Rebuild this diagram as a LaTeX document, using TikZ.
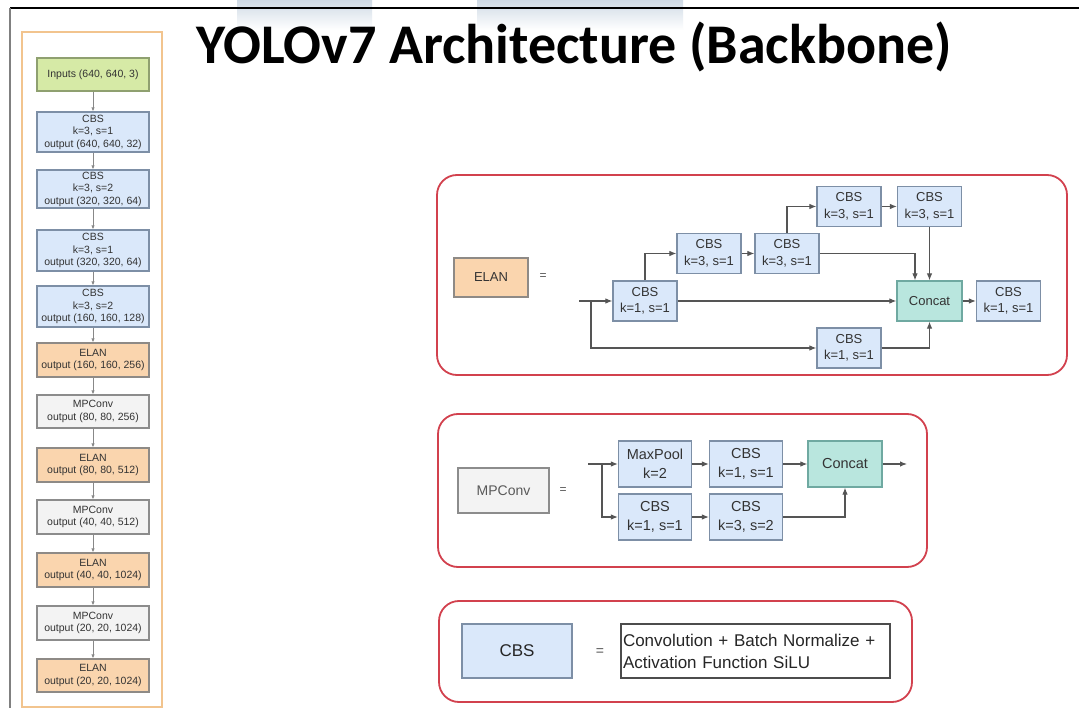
\documentclass[tikz,border=0pt]{standalone}
\usepackage{fontspec}
\setmainfont{Liberation Sans}
\newfontfamily\titlefont{Carlito}
\usetikzlibrary{arrows.meta}

\definecolor{cbsfill}{HTML}{DAE8FA}
\definecolor{cbsdraw}{HTML}{7D8FA6}
\definecolor{elanfill}{HTML}{FAD5AE}
\definecolor{elandraw}{HTML}{8E8A86}
\definecolor{mpfill}{HTML}{F3F3F3}
\definecolor{mpdraw}{HTML}{8C8C8C}
\definecolor{catfill}{HTML}{B9E6DE}
\definecolor{catdraw}{HTML}{6FA9A1}
\definecolor{infill}{HTML}{D6EAA6}
\definecolor{indraw}{HTML}{8FA070}
\definecolor{panelred}{HTML}{D2414E}
\definecolor{panelorange}{HTML}{F2C48E}
\definecolor{wire}{HTML}{555555}
\definecolor{txt}{HTML}{333333}
\definecolor{band}{HTML}{CFDAE5}

\tikzset{
  box/.style={draw, line width=1.2pt, inner sep=0pt, align=center, text=txt},
  cbs/.style={box, fill=cbsfill, draw=cbsdraw},
  elanb/.style={box, fill=elanfill, draw=elandraw},
  mpb/.style={box, fill=mpfill, draw=mpdraw},
  cat/.style={box, fill=catfill, draw=catdraw},
  inb/.style={box, fill=infill, draw=indraw},
  col/.style={minimum width=112pt, minimum height=34pt, font=\fontsize{10.5}{12.5}\selectfont},
  colcbs/.style={col, minimum height=40pt},
  el/.style={minimum width=64pt, minimum height=40pt, font=\fontsize{13}{16.5}\selectfont},
  mpn/.style={minimum width=73pt, minimum height=46pt, font=\fontsize{14.5}{19}\selectfont},
  panel/.style={draw=panelred, line width=1.8pt, rounded corners=20pt, fill=white},
  eqsign/.style={text=wire, font=\fontsize{12}{12}\selectfont, inner sep=0pt},
  arr/.style={draw=wire, line width=1.1pt, -{Latex[length=7pt,width=5.5pt]}},
  arrsmall/.style={draw=wire!70, line width=0.9pt, -{Latex[length=4pt,width=3.5pt]}}
}

\begin{document}
\begin{tikzpicture}[x=1pt,y=-1pt]
\useasboundingbox (0,0) rectangle (1079,708);
\fill[white] (0,0) rectangle (1079,708);

% faint bands along the top edge
\shade[top color=band, bottom color=white] (237,0) rectangle (372,30);
\shade[top color=band, bottom color=white] (477,0) rectangle (683,30);

% frame lines
\draw[black, line width=1.4pt] (10,8) -- (1079,8);
\draw[black!50, line width=2.4pt] (10,8) -- (10,708);

% title
\node[anchor=base west, inner sep=0pt, font=\titlefont\bfseries\fontsize{56}{60}\selectfont] (title) at (196,63.5) {YOLOv7 Architecture (Backbone)};

% ---------- backbone column ----------
\draw[panelorange, line width=1.8pt] (22,32) rectangle (162,707);
\node[inb, col, minimum height=33pt] (l0) at (93,74.5) {Inputs (640, 640, 3)};
\node[cbs, colcbs] (l1) at (93,132) {CBS\\k=3, s=1\\output (640, 640, 32)};
\node[cbs, colcbs, minimum height=38pt] (l2) at (93,189) {CBS\\k=3, s=2\\output (320, 320, 64)};
\node[cbs, colcbs, minimum height=41pt] (l3) at (93,250.5) {CBS\\k=3, s=1\\output (320, 320, 64)};
\node[cbs, colcbs, minimum height=41pt] (l4) at (93,306.5) {CBS\\k=3, s=2\\output (160, 160, 128)};
\node[elanb, col] (l5) at (93,360) {ELAN\\output (160, 160, 256)};
\node[mpb, col, minimum height=33pt] (l6) at (93,411.5) {MPConv\\output (80, 80, 256)};
\node[elanb, col] (l7) at (93,465) {ELAN\\output (80, 80, 512)};
\node[mpb, col] (l8) at (93,517) {MPConv\\output (40, 40, 512)};
\node[elanb, col] (l9) at (93,570) {ELAN\\output (40, 40, 1024)};
\node[mpb, col] (l10) at (93,623) {MPConv\\output (20, 20, 1024)};
\node[elanb, col, minimum height=33pt] (l11) at (93,675.5) {ELAN\\output (20, 20, 1024)};
\foreach \a/\b in {l0/l1,l1/l2,l2/l3,l3/l4,l4/l5,l5/l6,l6/l7,l7/l8,l8/l9,l9/l10,l10/l11}
  \draw[arrsmall] (\a) -- (\b);

% ---------- ELAN block ----------
\draw[panel] (437,175) rectangle (1067,375);
\node[elanb, minimum width=74pt, minimum height=39pt, font=\fontsize{13}{16}\selectfont] (elanlbl) at (491,277.5) {ELAN};
\node[eqsign] (elaneq) at (543,277) {=};
\coordinate (ein) at (579,301);
\coordinate (ebr) at (591,301);
\node[cbs, el] (e1) at (645,301) {CBS\\k=1, s=1};
\node[cbs, el] (e2) at (709,253.5) {CBS\\k=3, s=1};
\node[cbs, el] (e3) at (787,253.5) {CBS\\k=3, s=1};
\node[cbs, el] (e4) at (849,206.5) {CBS\\k=3, s=1};
\node[cbs, el] (e5) at (929.5,206.5) {CBS\\k=3, s=1};
\node[cat, el, minimum width=65pt] (ecat) at (929.5,301) {Concat};
\node[cbs, el] (e7) at (1008.5,301) {CBS\\k=1, s=1};
\node[cbs, el] (e6) at (849,348) {CBS\\k=1, s=1};
\draw[arr] (ein) -- (e1.west);
\draw[arr] (ebr) |- (e6.west);
\draw[arr] (e1.north) |- (e2.west);
\draw[arr] (e2) -- (e3);
\draw[arr] (e3.north) |- (e4.west);
\draw[arr] (e4) -- (e5);
\draw[arr] (e3.east) -| ([xshift=-14.5pt]ecat.north);
\draw[arr] (e5) -- (ecat);
\draw[arr] (e1.east) -- (ecat.west);
\draw[arr] (e6.east) -| (ecat.south);
\draw[arr] (ecat) -- (e7);

% ---------- MPConv block ----------
\draw[panel] (438,414) rectangle (927,567);
\node[mpb, minimum width=91pt, minimum height=45pt, font=\fontsize{14}{17}\selectfont, text=black!65] (mplbl) at (503.5,490.5) {MPConv};
\node[eqsign] (mpeq) at (563,491) {=};
\coordinate (min) at (588,464);
\coordinate (mbr) at (602,464);
\node[cbs, mpn] (m1) at (655,464) {MaxPool\\k=2};
\node[cbs, mpn] (m2) at (746,464) {CBS\\k=1, s=1};
\node[cbs, mpn] (m3) at (655,517) {CBS\\k=1, s=1};
\node[cbs, mpn] (m4) at (746,517) {CBS\\k=3, s=2};
\node[cat, mpn, minimum width=74pt] (mcat) at (845,464) {Concat};
\coordinate (mout) at (907,464);
\draw[arr] (min) -- (m1.west);
\draw[arr] (mbr) |- (m3.west);
\draw[arr] (m1) -- (m2);
\draw[arr] (m2) -- (mcat);
\draw[arr] (m3) -- (m4);
\draw[arr] (m4.east) -| (mcat.south);
\draw[arr] (mcat.east) -- (mout);

% ---------- CBS definition ----------
\draw[panel] (439,601) rectangle (912,702);
\node[cbs, minimum width=110pt, minimum height=54pt, font=\fontsize{17}{20}\selectfont, text=black!85] (cbslbl) at (517,651) {CBS};
\node[eqsign, font=\fontsize{14}{14}\selectfont] (cbseq) at (600,652) {=};
\node[draw=black!70, line width=1.3pt, fill=white, minimum height=54pt, text width=265pt, inner xsep=2pt, inner ysep=0pt, align=left, text=black!85, font=\fontsize{17}{22}\selectfont] (cbsdef) at (755.5,651) {Convolution + Batch Normalize +\\Activation Function SiLU};
\end{tikzpicture}
\end{document}
